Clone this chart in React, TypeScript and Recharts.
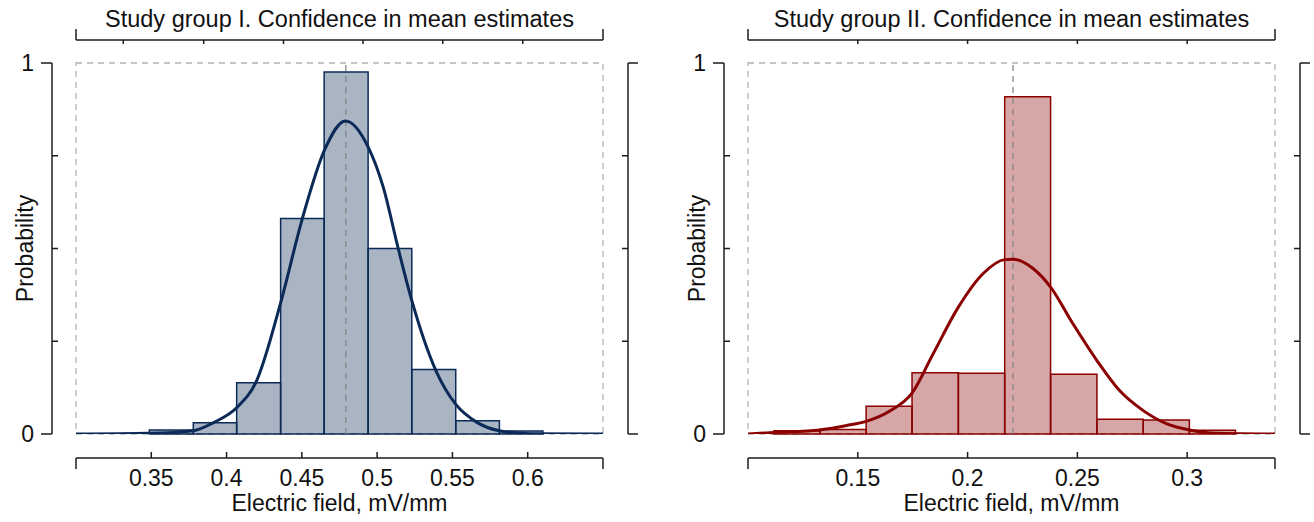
import { ComposedChart, XAxis, YAxis, Line, ReferenceArea, ReferenceLine } from "recharts";

// Study group I
const groupOneEdges = [0.3487, 0.3779, 0.4067, 0.4359, 0.4648, 0.494, 0.523, 0.5522, 0.5812, 0.6101];
const groupOneProb = [0.011, 0.03, 0.138, 0.581, 0.976, 0.5, 0.174, 0.036, 0.008];
const groupOneCurveX = [0.3, 0.349, 0.378, 0.391, 0.407, 0.42, 0.436, 0.45, 0.465, 0.479, 0.494, 0.504, 0.514, 0.523, 0.539, 0.552, 0.566, 0.581, 0.601, 0.65];
const groupOneCurveP = [0, 0.002, 0.009, 0.03, 0.072, 0.144, 0.355, 0.576, 0.765, 0.844, 0.774, 0.666, 0.5, 0.36, 0.171, 0.081, 0.032, 0.009, 0.001, 0];
const groupOneMean = 0.4792;
const groupOneXTicks = [0.3, 0.35, 0.4, 0.45, 0.5, 0.55, 0.6, 0.65];
const groupOneTopTicks = [0.3, 0.3314, 0.3848, 0.4378, 0.4906, 0.5436, 0.5967, 0.65];

// Study group II
const groupTwoEdges = [0.1118, 0.1327, 0.1538, 0.1747, 0.1958, 0.2169, 0.2378, 0.2589, 0.28, 0.301, 0.322];
const groupTwoProb = [0.009, 0.012, 0.075, 0.165, 0.164, 0.909, 0.161, 0.04, 0.038, 0.01];
const groupTwoCurveX = [0.1, 0.1118, 0.1327, 0.1449, 0.1538, 0.1646, 0.1747, 0.1843, 0.1958, 0.207, 0.2169, 0.2207, 0.2298, 0.2378, 0.248, 0.2589, 0.2692, 0.28, 0.2905, 0.301, 0.3132, 0.34];
const groupTwoCurveP = [0, 0.004, 0.011, 0.023, 0.034, 0.062, 0.11, 0.216, 0.342, 0.432, 0.47, 0.471, 0.446, 0.396, 0.297, 0.198, 0.117, 0.063, 0.028, 0.011, 0.002, 0];
const groupTwoMean = 0.2207;
const groupTwoXTicks = [0.1, 0.15, 0.2, 0.25, 0.3, 0.34];
const groupTwoTopTicks = [0.1, 0.15, 0.2, 0.25, 0.3, 0.34];

const yTicks = [0, 0.25, 0.5, 0.75, 1];

const INK = "#1c1c1c";
const TEXT = "#111";
const FS = 23;
const FONT = "'Liberation Sans', Arial, sans-serif";

const BottomTick = ({ x, y, payload, lo, hi }: any) => {
  const v = payload.value;
  if (v === lo || v === hi) {
    return <line x1={x} y1={y + 24} x2={x} y2={y + 35} stroke={INK} strokeWidth={1.5} />;
  }
  return (
    <g>
      <line x1={x} y1={y + 18} x2={x} y2={y + 24} stroke={INK} strokeWidth={1.5} />
      <text x={x} y={y + 52} textAnchor="middle" fontSize={FS} fill={TEXT}>
        {v}
      </text>
    </g>
  );
};

const TopTick = ({ x, y, payload, lo, hi }: any) => {
  const v = payload.value;
  if (v === lo || v === hi) {
    return <line x1={x} y1={y - 23} x2={x} y2={y - 34} stroke={INK} strokeWidth={1.5} />;
  }
  return <line x1={x} y1={y - 23} x2={x} y2={y - 19} stroke={INK} strokeWidth={1.5} />;
};

const LeftTick = ({ x, y, payload }: any) => {
  const v = payload.value;
  const ax = x - 24;
  if (v === 0 || v === 1) {
    return (
      <g>
        <line x1={ax - 11} y1={y} x2={ax} y2={y} stroke={INK} strokeWidth={1.5} />
        <text x={ax - 18} y={y} dy="0.36em" textAnchor="end" fontSize={FS} fill={TEXT}>
          {v}
        </text>
      </g>
    );
  }
  return <line x1={ax} y1={y} x2={ax + 6} y2={y} stroke={INK} strokeWidth={1.5} />;
};

const RightTick = ({ x, y, payload }: any) => {
  const v = payload.value;
  const ax = x + 25;
  if (v === 0 || v === 1) {
    return <line x1={ax} y1={y} x2={ax + 10} y2={y} stroke={INK} strokeWidth={1.5} />;
  }
  return <line x1={ax - 6} y1={y} x2={ax} y2={y} stroke={INK} strokeWidth={1.5} />;
};

type PanelProps = {
  title: string;
  edges: number[];
  prob: number[];
  curveX: number[];
  curveP: number[];
  mean: number;
  xTicks: number[];
  topTicks: number[];
  color: string;
};

const Panel = ({ title, edges, prob, curveX, curveP, mean, xTicks, topTicks, color }: PanelProps) => {
  const lo = xTicks[0];
  const hi = xTicks[xTicks.length - 1];
  const curve = curveX.map((x, i) => ({ x, p: curveP[i] }));
  return (
    <ComposedChart width={660} height={522} margin={{ top: 0, right: 0, bottom: 0, left: 0 }}>
      <XAxis
        xAxisId="b"
        dataKey="x"
        type="number"
        domain={[lo, hi]}
        ticks={xTicks}
        interval={0}
        allowDataOverflow
        height={88}
        tickSize={0}
        tickMargin={0}
        axisLine={{ stroke: INK, strokeWidth: 1.5, transform: "translate(0,24)" }}
        tick={(p: any) => <BottomTick {...p} lo={lo} hi={hi} />}
        label={{ value: "Electric field, mV/mm", position: "insideBottom", offset: 11, fontSize: FS, fill: TEXT }}
      />
      <XAxis
        xAxisId="t"
        dataKey="x"
        orientation="top"
        type="number"
        domain={[lo, hi]}
        ticks={topTicks}
        interval={0}
        allowDataOverflow
        height={63}
        tickSize={0}
        tickMargin={0}
        axisLine={{ stroke: INK, strokeWidth: 1.5, transform: "translate(0,-23)" }}
        tick={(p: any) => <TopTick {...p} lo={lo} hi={hi} />}
        label={{ value: title, position: "insideTop", offset: 10, fontSize: 23.5, fill: TEXT }}
      />
      <YAxis
        yAxisId="l"
        type="number"
        domain={[0, 1]}
        ticks={yTicks}
        interval={0}
        allowDataOverflow
        width={76}
        tickSize={0}
        tickMargin={0}
        axisLine={{ stroke: INK, strokeWidth: 1.5, transform: "translate(-24,0)" }}
        tick={(p: any) => <LeftTick {...p} />}
        label={{ value: "Probability", angle: -90, position: "insideLeft", offset: 25, fontSize: FS, fill: TEXT, style: { textAnchor: "middle" } }}
      />
      <YAxis
        yAxisId="r"
        orientation="right"
        type="number"
        domain={[0, 1]}
        ticks={yTicks}
        interval={0}
        allowDataOverflow
        width={57}
        tickSize={0}
        tickMargin={0}
        axisLine={{ stroke: INK, strokeWidth: 1.5, transform: "translate(25,0)" }}
        tick={(p: any) => <RightTick {...p} />}
      />

      {/* dashed frame */}
      <ReferenceArea
        xAxisId="b"
        yAxisId="l"
        x1={lo}
        x2={hi}
        y1={0}
        y2={1}
        fill="none"
        fillOpacity={0}
        stroke="#b3b3b3"
        strokeWidth={1.3}
        strokeDasharray="6 5"
        zIndex={50}
      />

      {prob.map((h, i) => (
        <ReferenceArea
          key={`bin-${i}`}
          xAxisId="b"
          yAxisId="l"
          x1={edges[i]}
          x2={edges[i + 1]}
          y1={0}
          y2={h}
          fill={color}
          fillOpacity={0.35}
          stroke={color}
          strokeWidth={1.5}
          zIndex={100}
        />
      ))}

      <ReferenceLine
        xAxisId="b"
        yAxisId="l"
        x={mean}
        stroke="#858585"
        strokeWidth={1.3}
        strokeDasharray="6 5"
        zIndex={150}
      />

      {/* same curve on the top/right axes, invisible: gives those axes data so their ticks render */}
      <Line
        xAxisId="t"
        yAxisId="r"
        data={curve}
        dataKey="p"
        type="monotone"
        stroke="none"
        strokeWidth={0}
        dot={false}
        activeDot={false}
        legendType="none"
        isAnimationActive={false}
      />
      <Line
        xAxisId="b"
        yAxisId="l"
        data={curve}
        dataKey="p"
        type="monotone"
        stroke={color}
        strokeWidth={3}
        dot={false}
        activeDot={false}
        isAnimationActive={false}
        zIndex={400}
      />
    </ComposedChart>
  );
};

export default function App() {
  return (
    <div style={{ position: "absolute", left: 0, top: 0, width: 1314, height: 522, background: "#fff", fontFamily: FONT, overflow: "hidden" }}>
      <div style={{ position: "absolute", left: 0, top: 0 }}>
        <Panel
          title="Study group I. Confidence in mean estimates"
          edges={groupOneEdges}
          prob={groupOneProb}
          curveX={groupOneCurveX}
          curveP={groupOneCurveP}
          mean={groupOneMean}
          xTicks={groupOneXTicks}
          topTicks={groupOneTopTicks}
          color="#0b2a57"
        />
      </div>
      <div style={{ position: "absolute", left: 672, top: 0 }}>
        <Panel
          title="Study group II. Confidence in mean estimates"
          edges={groupTwoEdges}
          prob={groupTwoProb}
          curveX={groupTwoCurveX}
          curveP={groupTwoCurveP}
          mean={groupTwoMean}
          xTicks={groupTwoXTicks}
          topTicks={groupTwoTopTicks}
          color="#8b0000"
        />
      </div>
    </div>
  );
}
